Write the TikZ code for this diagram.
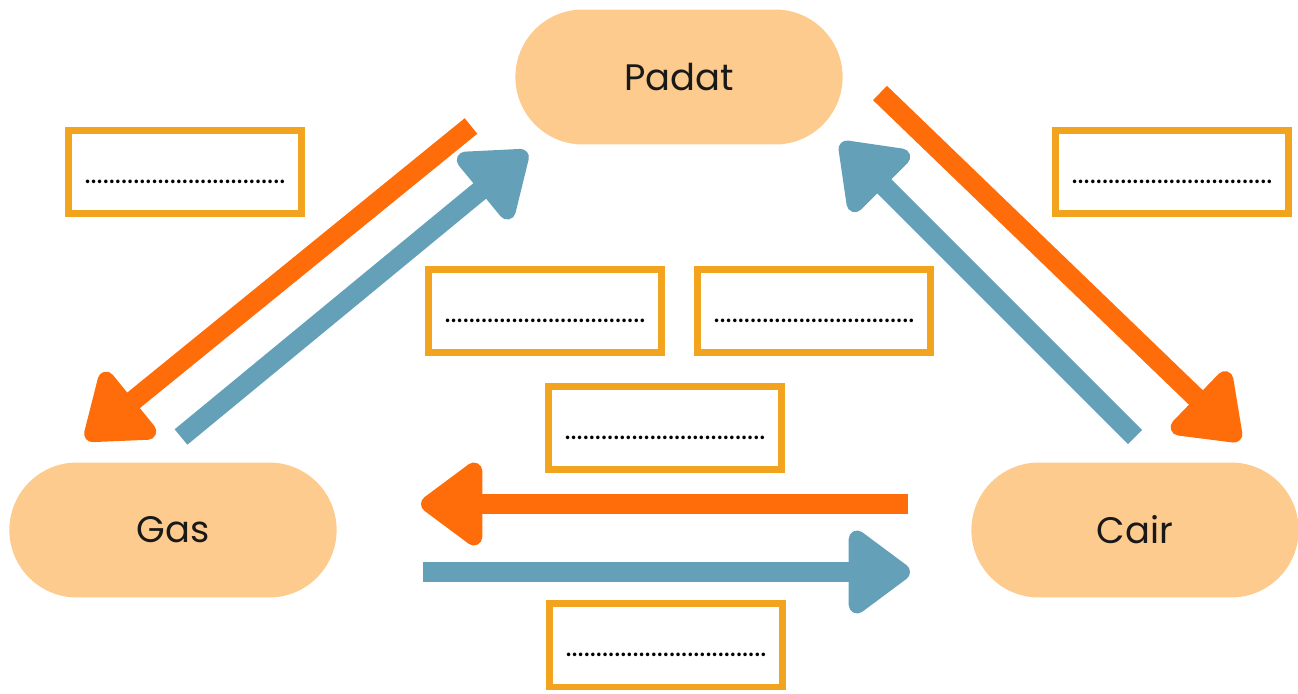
\documentclass[tikz,border=0pt]{standalone}
\usepackage{fontspec}
\setmainfont{Poppins}
\usepackage{xcolor}
\usetikzlibrary{positioning, shapes.misc, arrows.meta}
\definecolor{pillfill}{HTML}{FDCB8D}
\definecolor{boxline}{HTML}{F3A41E}
\definecolor{hotline}{HTML}{FF6C0A}
\definecolor{coldline}{HTML}{64A1B9}
\tikzset{
    phase/.style={rounded rectangle, fill=pillfill, minimum width=6.78cm, minimum height=2.7cm, font=\fontsize{21}{24}\selectfont, text=black!90},
    blank/.style={rectangle, draw=boxline, fill=white, line width=0.14cm, minimum width=4.66cm, minimum height=1.68cm, text height=0.44cm, text depth=0pt, font=\fontsize{16.5}{18}\selectfont},
    hot/.style={draw=hotline, line width=0.4cm, -{Triangle[length=1.35cm, width=1.9cm, round]}},
    cold/.style={draw=coldline, line width=0.4cm, -{Triangle[length=1.35cm, width=1.9cm, round]}},
}
\newcommand{\isian}{.................................}
\begin{document}
\begin{tikzpicture}[x=0.02cm, y=-0.02cm]
                        \useasboundingbox (0,0) rectangle (1298,693);
                        % fase zat
                        \node [phase] (padat) at (679,77) {Padat};
                        \node [phase] (gas) at (173,530) {Gas};
                        \node [phase] (cair) at (1135,530) {Cair};
                        % kotak isian
                        \node [blank] (isiPG) at (185,172) {\isian};
                        \node [blank] (isiPC) at (1172,172) {\isian};
                        \node [blank] (isiM1) at (545,311) {\isian};
                        \node [blank] (isiM2) at (814,311) {\isian};
                        \node [blank] (isiGC) at (665,428) {\isian};
                        \node [blank] (isiCG) at (666,645) {\isian};
                        % ujung panah
                        \coordinate (pgA) at (471,126);
                        \coordinate (pgB) at (86,439);
                        \coordinate (gpA) at (181,437);
                        \coordinate (gpB) at (527,152);
                        \coordinate (pcA) at (880,93);
                        \coordinate (pcB) at (1240,440);
                        \coordinate (cpA) at (1135,437);
                        \coordinate (cpB) at (841,143);
                        \coordinate (cgA) at (908,504);
                        \coordinate (cgB) at (421,504);
                        \coordinate (gcA) at (423,572);
                        \coordinate (gcB) at (910,572);
                        \draw [hot] (pgA) -- (pgB);
                        \draw [cold] (gpA) -- (gpB);
                        \draw [hot] (pcA) -- (pcB);
                        \draw [cold] (cpA) -- (cpB);
                        \draw [hot] (cgA) -- (cgB);
                        \draw [cold] (gcA) -- (gcB);
                    \end{tikzpicture}
\end{document}
